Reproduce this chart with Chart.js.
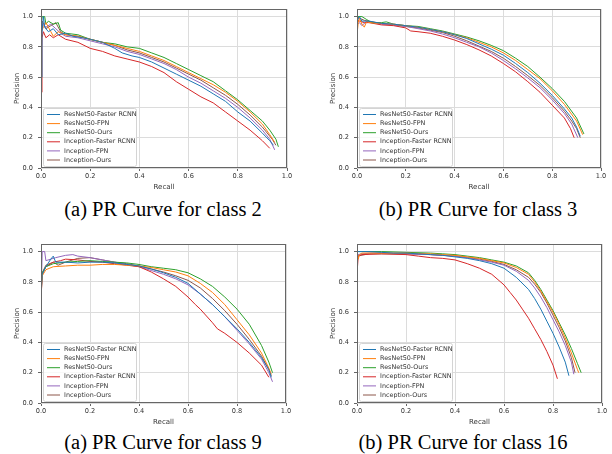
<!DOCTYPE html>
<html>
<head>
<meta charset="utf-8">
<script src="https://cdn.jsdelivr.net/npm/chart.js@4.4.1/dist/chart.umd.min.js"></script>
<style>
  body { margin: 0; background: #fff; }
  #wrap { position: relative; width: 612px; height: 454px; overflow: hidden; }
  canvas { position: absolute; }
  .cap { position: absolute; width: 306px; height: 24px; line-height: 24px; text-align: center;
         font-family: "Liberation Serif", "Times New Roman", serif; font-size: 20.5px; color: #000; white-space: nowrap; }
</style>
</head>
<body>
<div id="wrap">
  <canvas id="c2" width="306" height="195" style="left:0;top:0"></canvas>
  <canvas id="c3" width="306" height="195" style="left:306px;top:0"></canvas>
  <canvas id="c9" width="306" height="195" style="left:0;top:235px"></canvas>
  <canvas id="c16" width="306" height="195" style="left:306px;top:235px"></canvas>
  <div class="cap" style="left:10px;top:197px">(a) PR Curve for class 2</div>
  <div class="cap" style="left:325px;top:197px">(b) PR Curve for class 3</div>
  <div class="cap" style="left:10px;top:430px">(a) PR Curve for class 9</div>
  <div class="cap" style="left:310px;top:430px">(b) PR Curve for class 16</div>
</div>
<script>
// series names, same order in every panel
var labels = ['ResNet50-Faster RCNN', 'ResNet50-FPN', 'ResNet50-Ours',
              'Inception-Faster RCNN', 'Inception-FPN', 'Inception-Ours'];
var colors = ['#1f77b4', '#ff7f0e', '#2ca02c', '#d62728', '#9467bd', '#8c564b'];

var xTicks = [0, 0.2, 0.4, 0.6, 0.8, 1.0];
var yTicks = [0, 0.2, 0.4, 0.6, 0.8, 1.0];

// [recall, precision] points
// class 2
var c2_resFrcnn = [[0,0.6],[0.004,0.9],[0.01,1.0],[0.015,0.93],[0.03,0.9],[0.05,0.92],[0.07,0.88],[0.1,0.89],[0.13,0.87],[0.17,0.86],[0.2,0.85],[0.25,0.83],[0.3,0.79],[0.33,0.76],[0.37,0.74],[0.4,0.73],[0.45,0.70],[0.5,0.66],[0.55,0.62],[0.6,0.58],[0.65,0.54],[0.7,0.49],[0.75,0.44],[0.8,0.37],[0.85,0.31],[0.9,0.23],[0.93,0.18],[0.945,0.15]];
var c2_resFpn = [[0,0.9],[0.01,0.93],[0.02,0.96],[0.04,0.9],[0.05,0.87],[0.07,0.9],[0.1,0.88],[0.15,0.87],[0.2,0.85],[0.25,0.83],[0.3,0.81],[0.35,0.79],[0.4,0.77],[0.45,0.74],[0.5,0.71],[0.55,0.67],[0.6,0.63],[0.65,0.59],[0.7,0.55],[0.75,0.50],[0.8,0.44],[0.85,0.37],[0.9,0.29],[0.93,0.22],[0.95,0.17]];
var c2_resOurs = [[0,0.95],[0.005,1.0],[0.015,1.0],[0.02,0.95],[0.03,0.97],[0.05,0.95],[0.07,0.96],[0.08,0.91],[0.1,0.89],[0.15,0.88],[0.2,0.85],[0.25,0.83],[0.3,0.82],[0.35,0.80],[0.4,0.79],[0.45,0.76],[0.5,0.73],[0.55,0.69],[0.6,0.65],[0.65,0.61],[0.7,0.57],[0.75,0.51],[0.8,0.45],[0.85,0.38],[0.9,0.31],[0.93,0.25],[0.955,0.19],[0.965,0.14]];
var c2_incFrcnn = [[0,0.5],[0.004,0.86],[0.01,0.9],[0.02,0.86],[0.035,0.88],[0.05,0.86],[0.07,0.88],[0.1,0.85],[0.15,0.83],[0.2,0.79],[0.25,0.77],[0.3,0.74],[0.35,0.72],[0.4,0.70],[0.45,0.67],[0.5,0.63],[0.55,0.57],[0.6,0.52],[0.65,0.47],[0.7,0.43],[0.75,0.37],[0.8,0.31],[0.85,0.25],[0.9,0.18],[0.93,0.13]];
var c2_incFpn = [[0,0.7],[0.005,0.95],[0.02,0.93],[0.04,0.95],[0.06,0.92],[0.08,0.89],[0.1,0.87],[0.15,0.86],[0.2,0.84],[0.25,0.82],[0.3,0.80],[0.35,0.77],[0.4,0.75],[0.45,0.72],[0.5,0.69],[0.55,0.65],[0.6,0.60],[0.65,0.56],[0.7,0.51],[0.75,0.46],[0.8,0.40],[0.85,0.33],[0.9,0.25],[0.93,0.19],[0.95,0.12]];
var c2_incOurs = [[0,0.8],[0.005,0.97],[0.02,0.92],[0.04,0.94],[0.06,0.96],[0.08,0.9],[0.1,0.88],[0.15,0.87],[0.2,0.85],[0.25,0.83],[0.3,0.81],[0.35,0.78],[0.4,0.76],[0.45,0.73],[0.5,0.70],[0.55,0.66],[0.6,0.62],[0.65,0.58],[0.7,0.53],[0.75,0.48],[0.8,0.42],[0.85,0.35],[0.9,0.27],[0.94,0.19],[0.955,0.15]];

// class 3
var c3_resFrcnn = [[0,0.97],[0.01,1.0],[0.02,0.97],[0.05,0.97],[0.1,0.955],[0.15,0.95],[0.2,0.94],[0.25,0.93],[0.3,0.915],[0.35,0.9],[0.4,0.88],[0.45,0.855],[0.5,0.82],[0.55,0.785],[0.6,0.745],[0.65,0.69],[0.7,0.63],[0.75,0.56],[0.8,0.48],[0.85,0.39],[0.88,0.33],[0.9,0.27],[0.915,0.21]];
var c3_resFpn = [[0,0.88],[0.005,0.96],[0.01,0.99],[0.02,0.95],[0.03,0.93],[0.04,0.97],[0.05,0.96],[0.1,0.955],[0.15,0.95],[0.2,0.94],[0.25,0.93],[0.3,0.915],[0.35,0.9],[0.4,0.88],[0.45,0.86],[0.5,0.83],[0.55,0.80],[0.6,0.76],[0.65,0.71],[0.7,0.65],[0.75,0.59],[0.8,0.51],[0.85,0.42],[0.9,0.31],[0.925,0.22]];
var c3_resOurs = [[0,1.0],[0.02,1.0],[0.04,0.98],[0.06,0.96],[0.1,0.96],[0.12,0.965],[0.15,0.95],[0.2,0.94],[0.25,0.935],[0.3,0.92],[0.35,0.905],[0.4,0.885],[0.45,0.865],[0.5,0.84],[0.55,0.81],[0.6,0.775],[0.65,0.725],[0.7,0.67],[0.75,0.60],[0.8,0.525],[0.85,0.44],[0.9,0.33],[0.93,0.225]];
var c3_incFrcnn = [[0,0.98],[0.01,0.97],[0.03,0.96],[0.05,0.96],[0.1,0.945],[0.15,0.94],[0.2,0.925],[0.22,0.905],[0.25,0.9],[0.3,0.89],[0.35,0.87],[0.4,0.845],[0.45,0.815],[0.5,0.78],[0.55,0.74],[0.6,0.69],[0.65,0.635],[0.7,0.57],[0.75,0.50],[0.8,0.415],[0.85,0.33],[0.875,0.26],[0.89,0.2]];
var c3_incFpn = [[0,0.95],[0.01,0.96],[0.02,0.94],[0.04,0.97],[0.06,0.965],[0.1,0.95],[0.15,0.945],[0.2,0.935],[0.25,0.92],[0.3,0.905],[0.35,0.885],[0.4,0.86],[0.45,0.83],[0.5,0.80],[0.55,0.76],[0.6,0.71],[0.65,0.655],[0.7,0.595],[0.75,0.53],[0.8,0.45],[0.85,0.36],[0.88,0.29],[0.905,0.2]];
var c3_incOurs = [[0,1.0],[0.01,0.99],[0.03,0.975],[0.06,0.965],[0.1,0.955],[0.15,0.945],[0.2,0.935],[0.25,0.925],[0.3,0.91],[0.35,0.895],[0.4,0.87],[0.45,0.84],[0.5,0.805],[0.55,0.77],[0.6,0.725],[0.65,0.67],[0.7,0.61],[0.75,0.545],[0.8,0.465],[0.85,0.375],[0.88,0.31],[0.9,0.26],[0.915,0.2]];

// class 9
var c9_resFrcnn = [[0,0.7],[0.005,0.85],[0.02,0.9],[0.04,0.95],[0.05,0.97],[0.06,0.93],[0.1,0.93],[0.15,0.925],[0.2,0.93],[0.25,0.93],[0.3,0.925],[0.35,0.915],[0.4,0.905],[0.45,0.885],[0.5,0.86],[0.55,0.83],[0.6,0.79],[0.65,0.72],[0.7,0.65],[0.75,0.57],[0.8,0.49],[0.85,0.40],[0.9,0.30],[0.93,0.22],[0.94,0.17]];
var c9_resFpn = [[0,0.7],[0.005,0.84],[0.02,0.88],[0.05,0.9],[0.1,0.905],[0.15,0.91],[0.2,0.91],[0.25,0.915],[0.3,0.915],[0.35,0.91],[0.4,0.905],[0.45,0.895],[0.5,0.88],[0.55,0.865],[0.6,0.84],[0.65,0.79],[0.7,0.73],[0.75,0.65],[0.8,0.55],[0.85,0.45],[0.9,0.33],[0.93,0.23],[0.94,0.19]];
var c9_resOurs = [[0,0.75],[0.005,0.86],[0.02,0.9],[0.05,0.92],[0.1,0.93],[0.15,0.935],[0.2,0.94],[0.25,0.935],[0.3,0.93],[0.35,0.925],[0.4,0.915],[0.45,0.9],[0.5,0.89],[0.55,0.88],[0.6,0.86],[0.65,0.82],[0.7,0.77],[0.75,0.70],[0.8,0.62],[0.85,0.52],[0.9,0.38],[0.93,0.27],[0.945,0.2]];
var c9_incFrcnn = [[0,0.68],[0.005,0.85],[0.02,0.9],[0.05,0.93],[0.08,0.94],[0.1,0.95],[0.15,0.945],[0.2,0.935],[0.25,0.93],[0.3,0.92],[0.35,0.91],[0.4,0.9],[0.45,0.865],[0.5,0.82],[0.55,0.77],[0.6,0.70],[0.63,0.65],[0.65,0.62],[0.7,0.53],[0.72,0.49],[0.75,0.46],[0.8,0.40],[0.85,0.33],[0.9,0.25],[0.93,0.17]];
var c9_incFpn = [[0,0.7],[0.005,1.0],[0.015,1.0],[0.02,0.94],[0.04,0.95],[0.06,0.96],[0.1,0.975],[0.13,0.98],[0.15,0.97],[0.2,0.96],[0.25,0.945],[0.3,0.93],[0.35,0.915],[0.4,0.9],[0.45,0.875],[0.5,0.85],[0.55,0.82],[0.6,0.78],[0.65,0.72],[0.7,0.65],[0.75,0.57],[0.8,0.48],[0.85,0.39],[0.9,0.29],[0.93,0.2],[0.945,0.14]];
var c9_incOurs = [[0,0.72],[0.005,0.86],[0.02,0.91],[0.05,0.93],[0.07,0.91],[0.1,0.93],[0.15,0.955],[0.2,0.96],[0.25,0.945],[0.3,0.93],[0.35,0.92],[0.4,0.905],[0.45,0.885],[0.5,0.865],[0.55,0.84],[0.6,0.81],[0.65,0.76],[0.7,0.69],[0.75,0.61],[0.8,0.52],[0.85,0.42],[0.9,0.31],[0.93,0.22],[0.94,0.18]];

// class 16
var c16_resFrcnn = [[0,1.0],[0.05,1.0],[0.1,0.995],[0.15,0.99],[0.2,0.99],[0.25,0.985],[0.3,0.98],[0.35,0.975],[0.4,0.965],[0.45,0.955],[0.5,0.94],[0.55,0.92],[0.6,0.89],[0.65,0.83],[0.7,0.75],[0.725,0.69],[0.75,0.62],[0.775,0.54],[0.8,0.46],[0.825,0.37],[0.85,0.27],[0.865,0.18]];
var c16_resFpn = [[0,1.0],[0.005,0.95],[0.01,0.98],[0.02,0.99],[0.1,0.99],[0.2,0.99],[0.3,0.985],[0.35,0.98],[0.4,0.975],[0.45,0.965],[0.5,0.955],[0.55,0.94],[0.6,0.925],[0.65,0.895],[0.7,0.85],[0.725,0.80],[0.75,0.74],[0.775,0.67],[0.8,0.60],[0.825,0.52],[0.85,0.43],[0.875,0.33],[0.9,0.22],[0.905,0.2]];
var c16_resOurs = [[0,1.0],[0.1,1.0],[0.2,0.995],[0.3,0.99],[0.35,0.985],[0.4,0.98],[0.45,0.97],[0.5,0.96],[0.55,0.945],[0.6,0.93],[0.65,0.905],[0.7,0.86],[0.725,0.81],[0.75,0.75],[0.775,0.68],[0.8,0.61],[0.825,0.53],[0.85,0.45],[0.875,0.36],[0.9,0.26],[0.915,0.2]];
var c16_incFrcnn = [[0,0.0],[0.002,0.9],[0.005,0.97],[0.02,0.98],[0.1,0.985],[0.2,0.98],[0.25,0.97],[0.3,0.96],[0.35,0.955],[0.4,0.945],[0.45,0.92],[0.5,0.89],[0.55,0.85],[0.6,0.78],[0.625,0.73],[0.65,0.68],[0.675,0.62],[0.7,0.56],[0.725,0.49],[0.75,0.42],[0.775,0.34],[0.8,0.25],[0.818,0.16]];
var c16_incFpn = [[0,0.98],[0.05,0.99],[0.1,0.99],[0.2,0.985],[0.3,0.98],[0.4,0.97],[0.45,0.96],[0.5,0.945],[0.55,0.93],[0.6,0.91],[0.65,0.87],[0.7,0.81],[0.725,0.76],[0.75,0.70],[0.775,0.63],[0.8,0.55],[0.825,0.47],[0.85,0.38],[0.875,0.27],[0.885,0.19]];
var c16_incOurs = [[0,0.97],[0.05,0.985],[0.1,0.985],[0.2,0.985],[0.3,0.98],[0.4,0.97],[0.45,0.96],[0.5,0.95],[0.55,0.935],[0.6,0.915],[0.65,0.88],[0.7,0.83],[0.725,0.785],[0.75,0.73],[0.775,0.66],[0.8,0.58],[0.825,0.50],[0.85,0.41],[0.875,0.30],[0.89,0.2]];

var textColor = '#333';

// axes frame + legend box in the lower left of the plot
var framePlugin = {
  id: 'frame',
  afterDatasetsDraw: function(chart) {
    var ctx = chart.ctx, a = chart.chartArea;
    ctx.save();
    ctx.strokeStyle = '#666';
    ctx.lineWidth = 1;
    ctx.strokeRect(Math.round(a.left) + 0.5, Math.round(a.top) + 0.5,
                   Math.round(a.right - a.left) - 1, Math.round(a.bottom - a.top) - 1);

    var x0 = a.left + 2, w = 93, h = 58, y0 = a.bottom - 2 - h;
    ctx.fillStyle = 'rgba(255,255,255,0.8)';
    ctx.strokeStyle = '#d4d4d4';
    ctx.beginPath();
    ctx.roundRect(x0 + 0.5, y0 + 0.5, w, h, 2);
    ctx.fill();
    ctx.stroke();
    ctx.font = '6.4px "DejaVu Sans"';
    ctx.textBaseline = 'middle';
    chart.data.datasets.forEach(function(ds, i) {
      var y = y0 + 6.5 + i * 9.1;
      ctx.strokeStyle = ds.borderColor;
      ctx.lineWidth = 1;
      ctx.beginPath();
      ctx.moveTo(x0 + 4, y);
      ctx.lineTo(x0 + 17, y);
      ctx.stroke();
      ctx.fillStyle = textColor;
      ctx.fillText(ds.label, x0 + 21, y);
    });
    ctx.restore();
  }
};

function makePanel(id, series, leftW, rightPad, yTitlePad) {
  var datasets = series.map(function(pts, i) {
    return {
      label: labels[i],
      data: pts.map(function(p) { return {x: p[0], y: p[1]}; }),
      borderColor: colors[i],
      borderWidth: 1,
      pointRadius: 0,
      tension: 0,
      fill: false
    };
  });
  return new Chart(document.getElementById(id), {
    type: 'line',
    data: {datasets: datasets},
    plugins: [framePlugin],
    options: {
      responsive: false,
      animation: false,
      devicePixelRatio: 1,
      layout: {padding: {left: 0, right: rightPad, top: 9, bottom: 0}},
      plugins: {legend: {display: false}, tooltip: {enabled: false}},
      scales: {
        x: {
          type: 'linear', min: 0, max: 1,
          afterBuildTicks: function(s) { s.ticks = xTicks.map(function(v) { return {value: v}; }); },
          afterFit: function(s) { s.height = 27; },
          ticks: {
            callback: function(v) { return v.toFixed(1); },
            font: {family: 'DejaVu Sans', size: 6.6}, color: textColor, padding: 1, maxRotation: 0
          },
          grid: {color: '#dcdcdc', tickColor: '#666', tickLength: 3},
          border: {display: false},
          title: {display: true, text: 'Recall', color: textColor,
                  font: {family: 'DejaVu Sans', size: 7}, padding: {top: 0, bottom: 3.8}}
        },
        y: {
          type: 'linear', min: 0, max: 1.05,
          afterBuildTicks: function(s) { s.ticks = yTicks.map(function(v) { return {value: v}; }); },
          afterFit: function(s) { s.width = leftW; },
          ticks: {
            callback: function(v) { return v.toFixed(1); },
            font: {family: 'DejaVu Sans', size: 6.6}, color: textColor, padding: 5
          },
          grid: {color: '#dcdcdc', tickColor: '#666', tickLength: 3},
          border: {display: false},
          title: {display: true, text: 'Precision', color: textColor,
                  font: {family: 'DejaVu Sans', size: 7}, padding: {top: yTitlePad, bottom: 0}}
        }
      }
    }
  });
}

makePanel('c2', [c2_resFrcnn, c2_resFpn, c2_resOurs, c2_incFrcnn, c2_incFpn, c2_incOurs], 41, 19, 12.8);
makePanel('c3', [c3_resFrcnn, c3_resFpn, c3_resOurs, c3_incFrcnn, c3_incFpn, c3_incOurs], 51, 11, 22.5);
makePanel('c9', [c9_resFrcnn, c9_resFpn, c9_resOurs, c9_incFrcnn, c9_incFpn, c9_incOurs], 41, 20, 12.8);
makePanel('c16', [c16_resFrcnn, c16_resFpn, c16_resOurs, c16_incFrcnn, c16_incFpn, c16_incOurs], 51, 10, 22.5);
</script>
</body>
</html>
